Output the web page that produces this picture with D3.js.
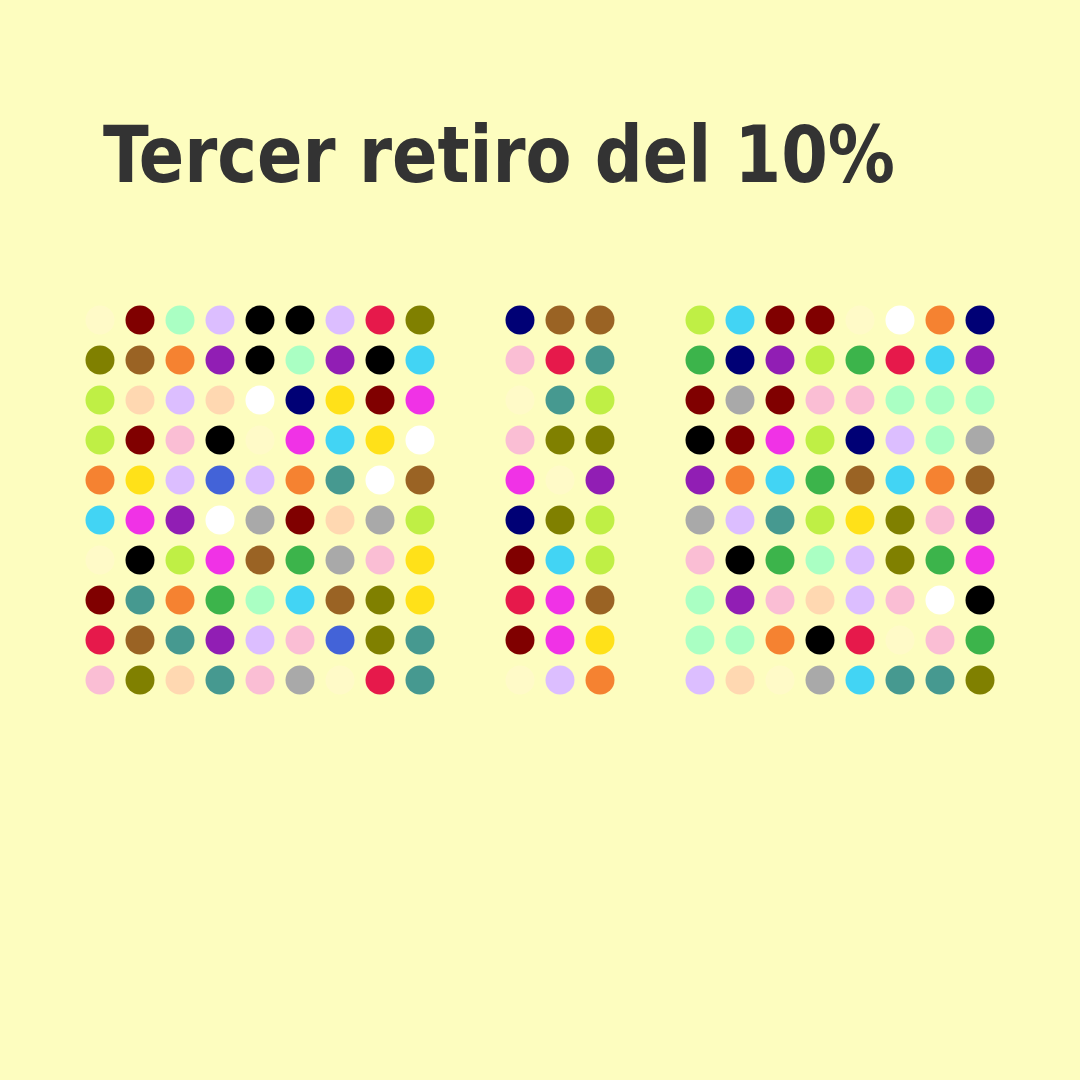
<!DOCTYPE html>
<html>
<head>
<meta charset="utf-8">
<script src="https://cdn.jsdelivr.net/npm/d3@7"></script>
<style>
  html, body { margin: 0; padding: 0; background: #fdfdbf; }
  svg { display: block; }
</style>
</head>
<body>
<svg id="chart" width="1080" height="1080"></svg>
<script>
// ---- DATA ----
const title = "Tercer retiro del 10%";

const colorKeys = ["beige","maroon","mint","lavender","black","red","olive","brown","orange","purple",
  "cyan","lime","apricot","white","navy","yellow","magenta","pink","blue","teal","grey","green"];
const colorHex = ["#fffac8","#800000","#aaffc3","#dcbeff","#000000","#e6194b","#808000","#9a6324","#f58231","#911eb4",
  "#42d4f4","#bfef45","#ffd8b1","#ffffff","#000075","#ffe119","#f032e6","#fabed4","#4363d8","#469990","#a9a9a9","#3cb44b"];

const group1Cols = 9;
const group1 = [
  "beige","maroon","mint","lavender","black","black","lavender","red","olive",
  "olive","brown","orange","purple","black","mint","purple","black","cyan",
  "lime","apricot","lavender","apricot","white","navy","yellow","maroon","magenta",
  "lime","maroon","pink","black","beige","magenta","cyan","yellow","white",
  "orange","yellow","lavender","blue","lavender","orange","teal","white","brown",
  "cyan","magenta","purple","white","grey","maroon","apricot","grey","lime",
  "beige","black","lime","magenta","brown","green","grey","pink","yellow",
  "maroon","teal","orange","green","mint","cyan","brown","olive","yellow",
  "red","brown","teal","purple","lavender","pink","blue","olive","teal",
  "pink","olive","apricot","teal","pink","grey","beige","red","teal"
];

const group2Cols = 3;
const group2 = [
  "navy","brown","brown",
  "pink","red","teal",
  "beige","teal","lime",
  "pink","olive","olive",
  "magenta","beige","purple",
  "navy","olive","lime",
  "maroon","cyan","lime",
  "red","magenta","brown",
  "maroon","magenta","yellow",
  "beige","lavender","orange"
];

const group3Cols = 8;
const group3 = [
  "lime","cyan","maroon","maroon","beige","white","orange","navy",
  "green","navy","purple","lime","green","red","cyan","purple",
  "maroon","grey","maroon","pink","pink","mint","mint","mint",
  "black","maroon","magenta","lime","navy","lavender","mint","grey",
  "purple","orange","cyan","green","brown","cyan","orange","brown",
  "grey","lavender","teal","lime","yellow","olive","pink","purple",
  "pink","black","green","mint","lavender","olive","green","magenta",
  "mint","purple","pink","apricot","lavender","pink","white","black",
  "mint","mint","orange","black","red","beige","pink","green",
  "lavender","apricot","beige","grey","cyan","teal","teal","olive"
];

// ---- LAYOUT ----
const svg = d3.select("#chart");
const W = 1080, H = 1080;
svg.append("rect").attr("width", W).attr("height", H).attr("fill", "#fdfdbf");

const color = d3.scaleOrdinal().domain(colorKeys).range(colorHex);

const groups = [
  { values: group1, cols: group1Cols, x0: 100 },
  { values: group2, cols: group2Cols, x0: 520 },
  { values: group3, cols: group3Cols, x0: 700 }
];

const step = 40;
const rows = 10;
const y = d3.scaleLinear().domain([0, rows - 1]).range([320, 320 + step * (rows - 1)]);

groups.forEach((g, gi) => {
  const x = d3.scaleLinear().domain([0, g.cols - 1]).range([g.x0, g.x0 + step * (g.cols - 1)]);
  svg.append("g").attr("class", "group-" + gi)
    .selectAll("circle")
    .data(g.values)
    .join("circle")
    .attr("cx", (d, i) => x(i % g.cols))
    .attr("cy", (d, i) => y(Math.floor(i / g.cols)))
    .attr("r", 14.5)
    .attr("fill", d => color(d));
});

svg.append("text")
  .attr("x", 103)
  .attr("y", 182)
  .attr("fill", "#333333")
  .attr("font-family", "'DejaVu Sans Condensed', 'Liberation Sans Narrow', 'Open Sans', sans-serif")
  .attr("font-weight", "bold")
  .attr("font-size", 78)
  .attr("textLength", 792)
  .attr("lengthAdjust", "spacingAndGlyphs")
  .text(title);
</script>
</body>
</html>
